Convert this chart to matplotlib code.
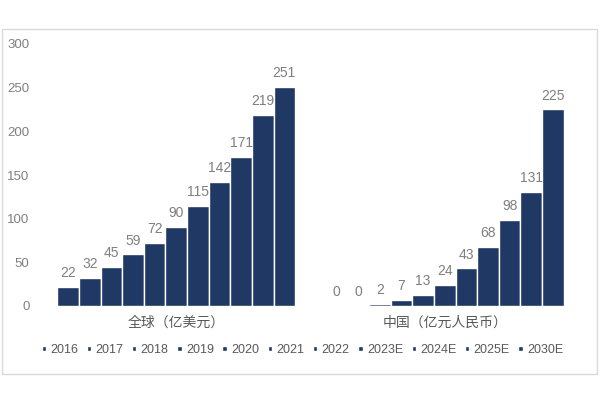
import numpy as np
import matplotlib
matplotlib.use('Agg')
import matplotlib.pyplot as plt
from matplotlib.patches import Rectangle

plt.rcParams['font.family'] = ['Liberation Sans', 'Noto Sans CJK SC']

groups = ['全球（亿美元）', '中国（亿元人民币）']
years = ['2016', '2017', '2018', '2019', '2020', '2021', '2022', '2023E', '2024E', '2025E', '2030E']
quanqiu = [22, 32, 45, 59, 72, 90, 115, 142, 171, 219, 251]
zhongguo = [0, 0, 2, 7, 13, 24, 43, 68, 98, 131, 225]

kleur = '#203864'
grijs = '#7f7f7f'

fig = plt.figure(figsize=(6, 4), dpi=100)
ax = fig.add_axes([0.07, 0.235, 0.895, 0.655])

# kader rond de grafiek
fig.patches.append(Rectangle((0.004, 0.064), 0.991, 0.864, transform=fig.transFigure,
                             fill=False, edgecolor='#d9d9d9', linewidth=1))

x = np.arange(len(groups))
breedte = 0.0805
for i, jaar in enumerate(years):
    pos = x - breedte * (len(years) - 1) / 2 + i * breedte
    waarden = [quanqiu[i], zhongguo[i]]
    bars = ax.bar(pos, waarden, width=breedte, color=kleur, edgecolor='white',
                  linewidth=1, label=jaar)
    ax.bar_label(bars, padding=5, fontsize=10, color=grijs)

ax.set_xlim(-0.5, 1.5)
ax.set_ylim(0, 300)
ax.set_yticks(range(0, 301, 50))
ax.set_xticks(x)
ax.set_xticklabels(groups, fontsize=10, color='#595959')
ax.tick_params(axis='y', labelsize=9.5, labelcolor='#7f7f7f', length=0, pad=9)
ax.tick_params(axis='x', length=0, pad=7)
for kant in ['top', 'right', 'left', 'bottom']:
    ax.spines[kant].set_visible(False)

fig.legend(loc='center', bbox_to_anchor=(0.504, 0.125), ncol=11, frameon=False,
           fontsize=9, labelcolor='#595959', handlelength=0.35, handleheight=0.35,
           handletextpad=0.35, columnspacing=0.68)

plt.savefig('out.png', dpi=100)
plt.close()
